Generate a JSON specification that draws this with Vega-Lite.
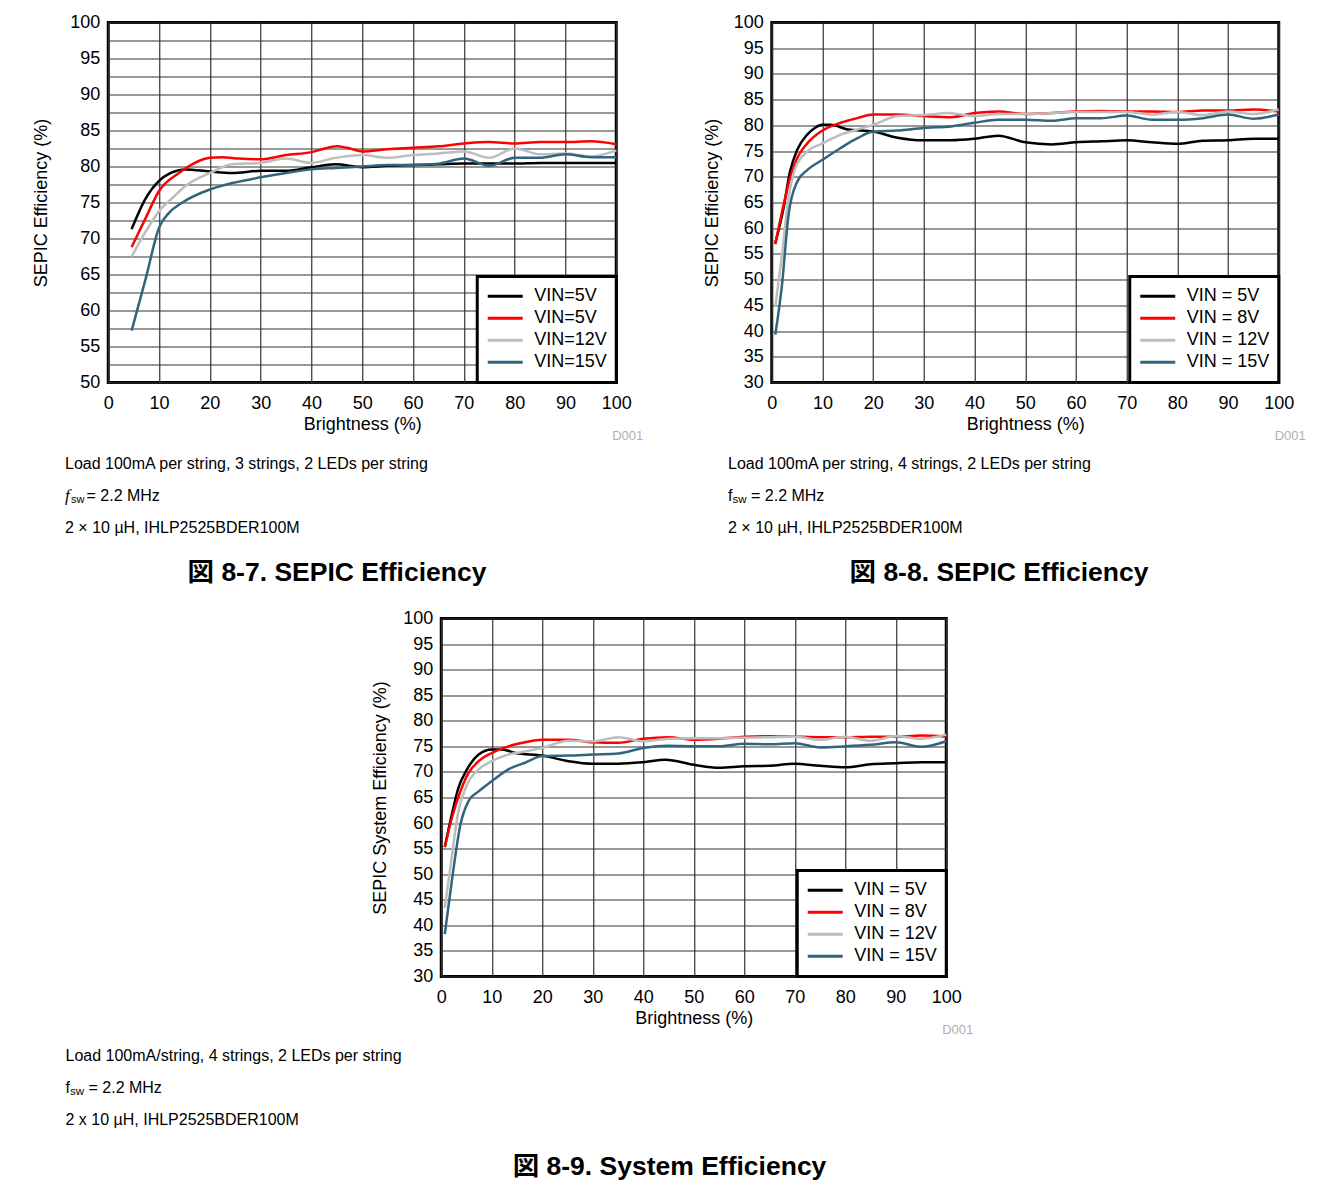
{
  "$schema": "https://vega.github.io/schema/vega-lite/v6.json",
  "background": "white",
  "padding": {"left": 31, "top": 11.5, "right": 5, "bottom": 5},
  "datasets": {
    "p1": [
      {"series": "VIN=5V#1", "brightness": 4.6, "efficiency": 71.3},
      {"series": "VIN=5V#1", "brightness": 7.4, "efficiency": 75.6},
      {"series": "VIN=5V#1", "brightness": 10, "efficiency": 78.0},
      {"series": "VIN=5V#1", "brightness": 12.3, "efficiency": 79.1},
      {"series": "VIN=5V#1", "brightness": 15.2, "efficiency": 79.6},
      {"series": "VIN=5V#1", "brightness": 20, "efficiency": 79.3},
      {"series": "VIN=5V#1", "brightness": 24.4, "efficiency": 79.1},
      {"series": "VIN=5V#1", "brightness": 30, "efficiency": 79.4},
      {"series": "VIN=5V#1", "brightness": 35, "efficiency": 79.4},
      {"series": "VIN=5V#1", "brightness": 40, "efficiency": 79.9},
      {"series": "VIN=5V#1", "brightness": 44.7, "efficiency": 80.3},
      {"series": "VIN=5V#1", "brightness": 50, "efficiency": 79.9},
      {"series": "VIN=5V#1", "brightness": 55, "efficiency": 80.1},
      {"series": "VIN=5V#1", "brightness": 60, "efficiency": 80.2},
      {"series": "VIN=5V#1", "brightness": 65, "efficiency": 80.3},
      {"series": "VIN=5V#1", "brightness": 70, "efficiency": 80.4},
      {"series": "VIN=5V#1", "brightness": 75, "efficiency": 80.4},
      {"series": "VIN=5V#1", "brightness": 80, "efficiency": 80.4},
      {"series": "VIN=5V#1", "brightness": 85, "efficiency": 80.5},
      {"series": "VIN=5V#1", "brightness": 90, "efficiency": 80.5},
      {"series": "VIN=5V#1", "brightness": 95, "efficiency": 80.5},
      {"series": "VIN=5V#1", "brightness": 100, "efficiency": 80.5},
      {"series": "VIN=5V#2", "brightness": 4.6, "efficiency": 68.8},
      {"series": "VIN=5V#2", "brightness": 7.4, "efficiency": 72.9},
      {"series": "VIN=5V#2", "brightness": 10, "efficiency": 76.6},
      {"series": "VIN=5V#2", "brightness": 13.9, "efficiency": 79.1},
      {"series": "VIN=5V#2", "brightness": 16.5, "efficiency": 80.3},
      {"series": "VIN=5V#2", "brightness": 20, "efficiency": 81.2},
      {"series": "VIN=5V#2", "brightness": 22.4, "efficiency": 81.3},
      {"series": "VIN=5V#2", "brightness": 25.7, "efficiency": 81.1},
      {"series": "VIN=5V#2", "brightness": 30, "efficiency": 81.0},
      {"series": "VIN=5V#2", "brightness": 35, "efficiency": 81.6},
      {"series": "VIN=5V#2", "brightness": 40, "efficiency": 82.0},
      {"series": "VIN=5V#2", "brightness": 42.1, "efficiency": 82.4},
      {"series": "VIN=5V#2", "brightness": 45, "efficiency": 82.8},
      {"series": "VIN=5V#2", "brightness": 47, "efficiency": 82.6},
      {"series": "VIN=5V#2", "brightness": 50, "efficiency": 82.1},
      {"series": "VIN=5V#2", "brightness": 55, "efficiency": 82.4},
      {"series": "VIN=5V#2", "brightness": 60, "efficiency": 82.6},
      {"series": "VIN=5V#2", "brightness": 65, "efficiency": 82.8},
      {"series": "VIN=5V#2", "brightness": 70, "efficiency": 83.2},
      {"series": "VIN=5V#2", "brightness": 75, "efficiency": 83.4},
      {"series": "VIN=5V#2", "brightness": 80, "efficiency": 83.2},
      {"series": "VIN=5V#2", "brightness": 85, "efficiency": 83.4},
      {"series": "VIN=5V#2", "brightness": 90, "efficiency": 83.4},
      {"series": "VIN=5V#2", "brightness": 95, "efficiency": 83.5},
      {"series": "VIN=5V#2", "brightness": 100, "efficiency": 83.1},
      {"series": "VIN=12V", "brightness": 4.6, "efficiency": 67.5},
      {"series": "VIN=12V", "brightness": 7.4, "efficiency": 71.0},
      {"series": "VIN=12V", "brightness": 10, "efficiency": 73.8},
      {"series": "VIN=12V", "brightness": 12.6, "efficiency": 75.6},
      {"series": "VIN=12V", "brightness": 15.2, "efficiency": 77.3},
      {"series": "VIN=12V", "brightness": 20, "efficiency": 79.1},
      {"series": "VIN=12V", "brightness": 24.4, "efficiency": 80.3},
      {"series": "VIN=12V", "brightness": 30, "efficiency": 80.5},
      {"series": "VIN=12V", "brightness": 35, "efficiency": 81.1},
      {"series": "VIN=12V", "brightness": 40, "efficiency": 80.5},
      {"series": "VIN=12V", "brightness": 44.7, "efficiency": 81.2},
      {"series": "VIN=12V", "brightness": 50, "efficiency": 81.6},
      {"series": "VIN=12V", "brightness": 55, "efficiency": 81.2},
      {"series": "VIN=12V", "brightness": 60, "efficiency": 81.6},
      {"series": "VIN=12V", "brightness": 65, "efficiency": 81.8},
      {"series": "VIN=12V", "brightness": 70, "efficiency": 82.1},
      {"series": "VIN=12V", "brightness": 75, "efficiency": 81.2},
      {"series": "VIN=12V", "brightness": 80, "efficiency": 82.5},
      {"series": "VIN=12V", "brightness": 85, "efficiency": 81.7},
      {"series": "VIN=12V", "brightness": 90, "efficiency": 81.8},
      {"series": "VIN=12V", "brightness": 95, "efficiency": 81.4},
      {"series": "VIN=12V", "brightness": 100, "efficiency": 82.2},
      {"series": "VIN=15V", "brightness": 4.6, "efficiency": 57.2},
      {"series": "VIN=15V", "brightness": 7.4, "efficiency": 64.5},
      {"series": "VIN=15V", "brightness": 10, "efficiency": 71.5},
      {"series": "VIN=15V", "brightness": 12, "efficiency": 73.6},
      {"series": "VIN=15V", "brightness": 14.6, "efficiency": 75.0},
      {"series": "VIN=15V", "brightness": 20, "efficiency": 76.8},
      {"series": "VIN=15V", "brightness": 24.4, "efficiency": 77.7},
      {"series": "VIN=15V", "brightness": 30, "efficiency": 78.5},
      {"series": "VIN=15V", "brightness": 35, "efficiency": 79.1},
      {"series": "VIN=15V", "brightness": 40, "efficiency": 79.6},
      {"series": "VIN=15V", "brightness": 44.7, "efficiency": 79.8},
      {"series": "VIN=15V", "brightness": 50, "efficiency": 80.0},
      {"series": "VIN=15V", "brightness": 55, "efficiency": 80.2},
      {"series": "VIN=15V", "brightness": 60, "efficiency": 80.2},
      {"series": "VIN=15V", "brightness": 65, "efficiency": 80.4},
      {"series": "VIN=15V", "brightness": 70, "efficiency": 81.1},
      {"series": "VIN=15V", "brightness": 75, "efficiency": 80.1},
      {"series": "VIN=15V", "brightness": 80, "efficiency": 81.2},
      {"series": "VIN=15V", "brightness": 85, "efficiency": 81.2},
      {"series": "VIN=15V", "brightness": 90, "efficiency": 81.7},
      {"series": "VIN=15V", "brightness": 95, "efficiency": 81.3},
      {"series": "VIN=15V", "brightness": 100, "efficiency": 81.3}
    ],
    "p2": [
      {"series": "VIN = 5V", "brightness": 0.7, "efficiency": 57.1},
      {"series": "VIN = 5V", "brightness": 2.3, "efficiency": 63.8},
      {"series": "VIN = 5V", "brightness": 3.6, "efficiency": 71.0},
      {"series": "VIN = 5V", "brightness": 5, "efficiency": 75.2},
      {"series": "VIN = 5V", "brightness": 7, "efficiency": 78.2},
      {"series": "VIN = 5V", "brightness": 8.5, "efficiency": 79.5},
      {"series": "VIN = 5V", "brightness": 10, "efficiency": 80.1},
      {"series": "VIN = 5V", "brightness": 11.6, "efficiency": 80.1},
      {"series": "VIN = 5V", "brightness": 15, "efficiency": 79.2},
      {"series": "VIN = 5V", "brightness": 20, "efficiency": 78.8},
      {"series": "VIN = 5V", "brightness": 24.8, "efficiency": 77.6},
      {"series": "VIN = 5V", "brightness": 30, "efficiency": 77.1},
      {"series": "VIN = 5V", "brightness": 35.4, "efficiency": 77.1},
      {"series": "VIN = 5V", "brightness": 40, "efficiency": 77.4},
      {"series": "VIN = 5V", "brightness": 44.7, "efficiency": 78.0},
      {"series": "VIN = 5V", "brightness": 50, "efficiency": 76.7},
      {"series": "VIN = 5V", "brightness": 55.3, "efficiency": 76.3},
      {"series": "VIN = 5V", "brightness": 60, "efficiency": 76.7},
      {"series": "VIN = 5V", "brightness": 65, "efficiency": 76.9},
      {"series": "VIN = 5V", "brightness": 70, "efficiency": 77.1},
      {"series": "VIN = 5V", "brightness": 75, "efficiency": 76.7},
      {"series": "VIN = 5V", "brightness": 80, "efficiency": 76.4},
      {"series": "VIN = 5V", "brightness": 85, "efficiency": 77.0},
      {"series": "VIN = 5V", "brightness": 90, "efficiency": 77.1},
      {"series": "VIN = 5V", "brightness": 95, "efficiency": 77.4},
      {"series": "VIN = 5V", "brightness": 100, "efficiency": 77.4},
      {"series": "VIN = 8V", "brightness": 0.7, "efficiency": 56.9},
      {"series": "VIN = 8V", "brightness": 2.3, "efficiency": 64.4},
      {"series": "VIN = 8V", "brightness": 3.6, "efficiency": 69.7},
      {"series": "VIN = 8V", "brightness": 5, "efficiency": 73.6},
      {"series": "VIN = 8V", "brightness": 7, "efficiency": 76.5},
      {"series": "VIN = 8V", "brightness": 10, "efficiency": 79.0},
      {"series": "VIN = 8V", "brightness": 13.6, "efficiency": 80.5},
      {"series": "VIN = 8V", "brightness": 16.9, "efficiency": 81.4},
      {"series": "VIN = 8V", "brightness": 20, "efficiency": 82.1},
      {"series": "VIN = 8V", "brightness": 24.8, "efficiency": 82.1},
      {"series": "VIN = 8V", "brightness": 30, "efficiency": 81.8},
      {"series": "VIN = 8V", "brightness": 35.4, "efficiency": 81.6},
      {"series": "VIN = 8V", "brightness": 40, "efficiency": 82.4},
      {"series": "VIN = 8V", "brightness": 44.7, "efficiency": 82.7},
      {"series": "VIN = 8V", "brightness": 50, "efficiency": 82.2},
      {"series": "VIN = 8V", "brightness": 55.3, "efficiency": 82.4},
      {"series": "VIN = 8V", "brightness": 60, "efficiency": 82.7},
      {"series": "VIN = 8V", "brightness": 65, "efficiency": 82.8},
      {"series": "VIN = 8V", "brightness": 70, "efficiency": 82.7},
      {"series": "VIN = 8V", "brightness": 75, "efficiency": 82.7},
      {"series": "VIN = 8V", "brightness": 80, "efficiency": 82.6},
      {"series": "VIN = 8V", "brightness": 85, "efficiency": 82.9},
      {"series": "VIN = 8V", "brightness": 90, "efficiency": 82.9},
      {"series": "VIN = 8V", "brightness": 95, "efficiency": 83.1},
      {"series": "VIN = 8V", "brightness": 100, "efficiency": 82.7},
      {"series": "VIN = 12V", "brightness": 0.7, "efficiency": 44.7},
      {"series": "VIN = 12V", "brightness": 2, "efficiency": 54.6},
      {"series": "VIN = 12V", "brightness": 3.3, "efficiency": 65.8},
      {"series": "VIN = 12V", "brightness": 4.6, "efficiency": 71.6},
      {"series": "VIN = 12V", "brightness": 7, "efficiency": 74.9},
      {"series": "VIN = 12V", "brightness": 10, "efficiency": 76.5},
      {"series": "VIN = 12V", "brightness": 13.6, "efficiency": 78.2},
      {"series": "VIN = 12V", "brightness": 16.9, "efficiency": 79.2},
      {"series": "VIN = 12V", "brightness": 20, "efficiency": 80.1},
      {"series": "VIN = 12V", "brightness": 24.8, "efficiency": 81.8},
      {"series": "VIN = 12V", "brightness": 30, "efficiency": 82.0},
      {"series": "VIN = 12V", "brightness": 34.8, "efficiency": 82.4},
      {"series": "VIN = 12V", "brightness": 40, "efficiency": 81.8},
      {"series": "VIN = 12V", "brightness": 44.7, "efficiency": 82.2},
      {"series": "VIN = 12V", "brightness": 50, "efficiency": 82.2},
      {"series": "VIN = 12V", "brightness": 55.3, "efficiency": 82.4},
      {"series": "VIN = 12V", "brightness": 60, "efficiency": 82.6},
      {"series": "VIN = 12V", "brightness": 65, "efficiency": 82.6},
      {"series": "VIN = 12V", "brightness": 70, "efficiency": 82.6},
      {"series": "VIN = 12V", "brightness": 75, "efficiency": 82.1},
      {"series": "VIN = 12V", "brightness": 80, "efficiency": 82.6},
      {"series": "VIN = 12V", "brightness": 85, "efficiency": 82.0},
      {"series": "VIN = 12V", "brightness": 90, "efficiency": 82.7},
      {"series": "VIN = 12V", "brightness": 95, "efficiency": 82.2},
      {"series": "VIN = 12V", "brightness": 100, "efficiency": 83.1},
      {"series": "VIN = 15V", "brightness": 0.7, "efficiency": 39.3},
      {"series": "VIN = 15V", "brightness": 2, "efficiency": 48.8},
      {"series": "VIN = 15V", "brightness": 3.3, "efficiency": 62.5},
      {"series": "VIN = 15V", "brightness": 5, "efficiency": 69.0},
      {"series": "VIN = 15V", "brightness": 7, "efficiency": 71.3},
      {"series": "VIN = 15V", "brightness": 10, "efficiency": 73.3},
      {"series": "VIN = 15V", "brightness": 13.6, "efficiency": 75.6},
      {"series": "VIN = 15V", "brightness": 16.9, "efficiency": 77.5},
      {"series": "VIN = 15V", "brightness": 20, "efficiency": 78.8},
      {"series": "VIN = 15V", "brightness": 24.8, "efficiency": 79.0},
      {"series": "VIN = 15V", "brightness": 30, "efficiency": 79.5},
      {"series": "VIN = 15V", "brightness": 35.4, "efficiency": 79.8},
      {"series": "VIN = 15V", "brightness": 40, "efficiency": 80.5},
      {"series": "VIN = 15V", "brightness": 44.7, "efficiency": 81.1},
      {"series": "VIN = 15V", "brightness": 50, "efficiency": 81.1},
      {"series": "VIN = 15V", "brightness": 55.3, "efficiency": 80.9},
      {"series": "VIN = 15V", "brightness": 60, "efficiency": 81.4},
      {"series": "VIN = 15V", "brightness": 65, "efficiency": 81.4},
      {"series": "VIN = 15V", "brightness": 70, "efficiency": 81.9},
      {"series": "VIN = 15V", "brightness": 75, "efficiency": 81.1},
      {"series": "VIN = 15V", "brightness": 80, "efficiency": 81.1},
      {"series": "VIN = 15V", "brightness": 85, "efficiency": 81.4},
      {"series": "VIN = 15V", "brightness": 90, "efficiency": 82.1},
      {"series": "VIN = 15V", "brightness": 95, "efficiency": 81.3},
      {"series": "VIN = 15V", "brightness": 100, "efficiency": 82.1}
    ],
    "p3": [
      {"series": "VIN = 5V", "brightness": 0.7, "efficiency": 55.3},
      {"series": "VIN = 5V", "brightness": 2.1, "efficiency": 61.7},
      {"series": "VIN = 5V", "brightness": 3.4, "efficiency": 66.9},
      {"series": "VIN = 5V", "brightness": 5.1, "efficiency": 70.5},
      {"series": "VIN = 5V", "brightness": 7.4, "efficiency": 73.4},
      {"series": "VIN = 5V", "brightness": 10, "efficiency": 74.4},
      {"series": "VIN = 5V", "brightness": 12, "efficiency": 74.4},
      {"series": "VIN = 5V", "brightness": 14.7, "efficiency": 73.7},
      {"series": "VIN = 5V", "brightness": 20, "efficiency": 73.2},
      {"series": "VIN = 5V", "brightness": 25.2, "efficiency": 72.1},
      {"series": "VIN = 5V", "brightness": 30, "efficiency": 71.6},
      {"series": "VIN = 5V", "brightness": 35.1, "efficiency": 71.6},
      {"series": "VIN = 5V", "brightness": 40, "efficiency": 71.9},
      {"series": "VIN = 5V", "brightness": 44.4, "efficiency": 72.4},
      {"series": "VIN = 5V", "brightness": 50, "efficiency": 71.4},
      {"series": "VIN = 5V", "brightness": 55, "efficiency": 70.8},
      {"series": "VIN = 5V", "brightness": 60, "efficiency": 71.1},
      {"series": "VIN = 5V", "brightness": 65, "efficiency": 71.2},
      {"series": "VIN = 5V", "brightness": 70, "efficiency": 71.6},
      {"series": "VIN = 5V", "brightness": 75, "efficiency": 71.2},
      {"series": "VIN = 5V", "brightness": 80, "efficiency": 70.9},
      {"series": "VIN = 5V", "brightness": 85, "efficiency": 71.5},
      {"series": "VIN = 5V", "brightness": 90, "efficiency": 71.7},
      {"series": "VIN = 5V", "brightness": 95, "efficiency": 71.9},
      {"series": "VIN = 5V", "brightness": 100, "efficiency": 71.9},
      {"series": "VIN = 8V", "brightness": 0.7, "efficiency": 55.3},
      {"series": "VIN = 8V", "brightness": 2.1, "efficiency": 61.0},
      {"series": "VIN = 8V", "brightness": 3.8, "efficiency": 66.2},
      {"series": "VIN = 8V", "brightness": 5.4, "efficiency": 69.8},
      {"series": "VIN = 8V", "brightness": 7.4, "efficiency": 72.1},
      {"series": "VIN = 8V", "brightness": 10, "efficiency": 73.7},
      {"series": "VIN = 8V", "brightness": 13.3, "efficiency": 75.0},
      {"series": "VIN = 8V", "brightness": 16.6, "efficiency": 75.8},
      {"series": "VIN = 8V", "brightness": 20, "efficiency": 76.3},
      {"series": "VIN = 8V", "brightness": 25.2, "efficiency": 76.3},
      {"series": "VIN = 8V", "brightness": 30, "efficiency": 75.8},
      {"series": "VIN = 8V", "brightness": 35.1, "efficiency": 75.7},
      {"series": "VIN = 8V", "brightness": 40, "efficiency": 76.5},
      {"series": "VIN = 8V", "brightness": 45, "efficiency": 76.8},
      {"series": "VIN = 8V", "brightness": 50, "efficiency": 76.3},
      {"series": "VIN = 8V", "brightness": 55, "efficiency": 76.5},
      {"series": "VIN = 8V", "brightness": 60, "efficiency": 76.9},
      {"series": "VIN = 8V", "brightness": 65, "efficiency": 77.0},
      {"series": "VIN = 8V", "brightness": 70, "efficiency": 76.9},
      {"series": "VIN = 8V", "brightness": 75, "efficiency": 76.8},
      {"series": "VIN = 8V", "brightness": 80, "efficiency": 76.8},
      {"series": "VIN = 8V", "brightness": 85, "efficiency": 76.9},
      {"series": "VIN = 8V", "brightness": 90, "efficiency": 76.9},
      {"series": "VIN = 8V", "brightness": 95, "efficiency": 77.1},
      {"series": "VIN = 8V", "brightness": 100, "efficiency": 76.9},
      {"series": "VIN = 12V", "brightness": 0.7, "efficiency": 43.4},
      {"series": "VIN = 12V", "brightness": 1.8, "efficiency": 51.3},
      {"series": "VIN = 12V", "brightness": 3.4, "efficiency": 62.3},
      {"series": "VIN = 12V", "brightness": 5.1, "efficiency": 67.5},
      {"series": "VIN = 12V", "brightness": 7.4, "efficiency": 70.5},
      {"series": "VIN = 12V", "brightness": 10, "efficiency": 72.1},
      {"series": "VIN = 12V", "brightness": 13.3, "efficiency": 73.4},
      {"series": "VIN = 12V", "brightness": 16.6, "efficiency": 74.0},
      {"series": "VIN = 12V", "brightness": 20, "efficiency": 74.7},
      {"series": "VIN = 12V", "brightness": 25.2, "efficiency": 76.1},
      {"series": "VIN = 12V", "brightness": 30, "efficiency": 76.0},
      {"series": "VIN = 12V", "brightness": 35.1, "efficiency": 76.8},
      {"series": "VIN = 12V", "brightness": 40, "efficiency": 76.0},
      {"series": "VIN = 12V", "brightness": 45, "efficiency": 76.5},
      {"series": "VIN = 12V", "brightness": 50, "efficiency": 76.6},
      {"series": "VIN = 12V", "brightness": 55, "efficiency": 76.6},
      {"series": "VIN = 12V", "brightness": 60, "efficiency": 76.7},
      {"series": "VIN = 12V", "brightness": 65, "efficiency": 76.8},
      {"series": "VIN = 12V", "brightness": 70, "efficiency": 76.9},
      {"series": "VIN = 12V", "brightness": 75, "efficiency": 76.3},
      {"series": "VIN = 12V", "brightness": 80, "efficiency": 76.9},
      {"series": "VIN = 12V", "brightness": 85, "efficiency": 76.1},
      {"series": "VIN = 12V", "brightness": 90, "efficiency": 77.0},
      {"series": "VIN = 12V", "brightness": 95, "efficiency": 76.5},
      {"series": "VIN = 12V", "brightness": 100, "efficiency": 77.3},
      {"series": "VIN = 15V", "brightness": 0.7, "efficiency": 38.3},
      {"series": "VIN = 15V", "brightness": 2.1, "efficiency": 48.7},
      {"series": "VIN = 15V", "brightness": 3.8, "efficiency": 59.7},
      {"series": "VIN = 15V", "brightness": 5.4, "efficiency": 64.3},
      {"series": "VIN = 15V", "brightness": 7.4, "efficiency": 66.2},
      {"series": "VIN = 15V", "brightness": 10, "efficiency": 68.2},
      {"series": "VIN = 15V", "brightness": 13.3, "efficiency": 70.5},
      {"series": "VIN = 15V", "brightness": 16.6, "efficiency": 71.8},
      {"series": "VIN = 15V", "brightness": 20, "efficiency": 73.1},
      {"series": "VIN = 15V", "brightness": 25.2, "efficiency": 73.2},
      {"series": "VIN = 15V", "brightness": 30, "efficiency": 73.4},
      {"series": "VIN = 15V", "brightness": 35.1, "efficiency": 73.6},
      {"series": "VIN = 15V", "brightness": 40, "efficiency": 74.7},
      {"series": "VIN = 15V", "brightness": 45, "efficiency": 75.1},
      {"series": "VIN = 15V", "brightness": 50, "efficiency": 75.0},
      {"series": "VIN = 15V", "brightness": 55, "efficiency": 75.0},
      {"series": "VIN = 15V", "brightness": 60, "efficiency": 75.5},
      {"series": "VIN = 15V", "brightness": 65, "efficiency": 75.4},
      {"series": "VIN = 15V", "brightness": 70, "efficiency": 75.6},
      {"series": "VIN = 15V", "brightness": 75, "efficiency": 74.8},
      {"series": "VIN = 15V", "brightness": 80, "efficiency": 75.0},
      {"series": "VIN = 15V", "brightness": 85, "efficiency": 75.3},
      {"series": "VIN = 15V", "brightness": 90, "efficiency": 75.8},
      {"series": "VIN = 15V", "brightness": 95, "efficiency": 74.9},
      {"series": "VIN = 15V", "brightness": 100, "efficiency": 76.0}
    ],
    "n1": [
      {"line": 1, "part": "main", "text": "Load 100mA per string, 3 strings, 2 LEDs per string"},
      {"line": 2, "part": "f", "text": "f"},
      {"line": 2, "part": "sub", "text": "sw"},
      {"line": 2, "part": "rest", "text": "= 2.2 MHz"},
      {"line": 3, "part": "main", "text": "2 × 10 µH, IHLP2525BDER100M"}
    ],
    "n2": [
      {"line": 1, "part": "main", "text": "Load 100mA per string, 4 strings, 2 LEDs per string"},
      {"line": 2, "part": "f", "text": "f"},
      {"line": 2, "part": "sub", "text": "sw"},
      {"line": 2, "part": "rest", "text": "= 2.2 MHz"},
      {"line": 3, "part": "main", "text": "2 × 10 µH, IHLP2525BDER100M"}
    ],
    "n3": [
      {"line": 1, "part": "main", "text": "Load 100mA/string, 4 strings, 2 LEDs per string"},
      {"line": 2, "part": "f", "text": "f"},
      {"line": 2, "part": "sub", "text": "sw"},
      {"line": 2, "part": "rest", "text": "= 2.2 MHz"},
      {"line": 3, "part": "main", "text": "2 x 10 µH, IHLP2525BDER100M"}
    ]
  },
  "vconcat": [
    {
      "hconcat": [
        {
          "vconcat": [
            {
              "width": 508,
              "height": 360,
              "data": {"name": "p1"},
              "title": {"text": "D001", "orient": "bottom", "anchor": "end", "frame": "group", "dx": 27, "offset": -4, "fontSize": 13, "fontWeight": "normal", "color": "#b0b0b0", "font": "Liberation Sans"},
              "mark": {"type": "line", "strokeWidth": 2.5, "interpolate": "monotone"},
              "encoding": {
                "x": {"field": "brightness", "type": "quantitative", "scale": {"domain": [0, 100], "nice": false}, "axis": {"title": "Brightness (%)", "values": [0, 10, 20, 30, 40, 50, 60, 70, 80, 90, 100]}},
                "y": {"field": "efficiency", "type": "quantitative", "scale": {"domain": [50, 100], "nice": false, "zero": false}, "axis": {"title": "SEPIC Efficiency (%)", "titlePadding": 19, "values": [50, 52.5, 55, 57.5, 60, 62.5, 65, 67.5, 70, 72.5, 75, 77.5, 80, 82.5, 85, 87.5, 90, 92.5, 95, 97.5, 100], "labelExpr": "datum.value % 5 == 0 ? datum.label : ''"}},
                "color": {"field": "series", "type": "nominal", "scale": {"domain": ["VIN=5V#1", "VIN=5V#2", "VIN=12V", "VIN=15V"], "range": ["#000000", "#ff0000", "#bdbdbd", "#33647e"]}, "legend": {"title": null, "labelExpr": "split(datum.label, '#')[0]"}}
              }
            },
            {
              "width": 623,
              "height": 96,
              "view": {"stroke": null},
              "data": {"name": "n1"},
              "title": {"text": "図 8-7. SEPIC Efficiency", "orient": "bottom", "anchor": "middle", "frame": "group", "dx": -39.5, "offset": 16, "fontSize": 26.5, "fontWeight": "bold", "font": "Liberation Sans, Noto Sans CJK JP", "color": "black"},
              "encoding": {
                "x": {"datum": 0, "type": "quantitative", "scale": {"domain": [0, 1]}, "axis": null},
                "y": {"field": "line", "type": "ordinal", "scale": {"type": "point", "domain": [1, 2, 3], "padding": 0.5}, "axis": null},
                "text": {"field": "text"}
              },
              "layer": [
                {"transform": [{"filter": "datum.part == 'main'"}], "mark": {"type": "text", "align": "left", "baseline": "middle", "fontSize": 16, "font": "Liberation Sans", "color": "black"}},
                {"transform": [{"filter": "datum.part == 'f'"}], "mark": {"type": "text", "align": "left", "baseline": "middle", "fontSize": 17, "fontStyle": "italic", "font": "Liberation Serif", "color": "black"}},
                {"transform": [{"filter": "datum.part == 'sub'"}], "mark": {"type": "text", "align": "left", "baseline": "middle", "fontSize": 11, "dx": 6, "dy": 4, "font": "Liberation Sans", "color": "black"}},
                {"transform": [{"filter": "datum.part == 'rest'"}], "mark": {"type": "text", "align": "left", "baseline": "middle", "fontSize": 16, "dx": 21.5, "font": "Liberation Sans", "color": "black"}}
              ]
            }
          ],
          "spacing": 3,
          "center": true,
          "resolve": {"scale": {"color": "independent"}, "legend": {"color": "independent"}}
        },
        {
          "vconcat": [
            {
              "width": 507,
              "height": 360,
              "data": {"name": "p2"},
              "title": {"text": "D001", "orient": "bottom", "anchor": "end", "frame": "group", "dx": 27, "offset": -4, "fontSize": 13, "fontWeight": "normal", "color": "#b0b0b0", "font": "Liberation Sans"},
              "mark": {"type": "line", "strokeWidth": 2.5, "interpolate": "monotone"},
              "encoding": {
                "x": {"field": "brightness", "type": "quantitative", "scale": {"domain": [0, 100], "nice": false}, "axis": {"title": "Brightness (%)", "values": [0, 10, 20, 30, 40, 50, 60, 70, 80, 90, 100]}},
                "y": {"field": "efficiency", "type": "quantitative", "scale": {"domain": [30, 100], "nice": false, "zero": false}, "axis": {"title": "SEPIC Efficiency (%)", "titlePadding": 12, "values": [30, 35, 40, 45, 50, 55, 60, 65, 70, 75, 80, 85, 90, 95, 100]}},
                "color": {"field": "series", "type": "nominal", "scale": {"domain": ["VIN = 5V", "VIN = 8V", "VIN = 12V", "VIN = 15V"], "range": ["#000000", "#ff0000", "#bdbdbd", "#33647e"]}, "legend": {"title": null}}
              }
            },
            {
              "width": 623,
              "height": 96,
              "view": {"stroke": null},
              "data": {"name": "n2"},
              "title": {"text": "図 8-8. SEPIC Efficiency", "orient": "bottom", "anchor": "middle", "frame": "group", "dx": -40.5, "offset": 16, "fontSize": 26.5, "fontWeight": "bold", "font": "Liberation Sans, Noto Sans CJK JP", "color": "black"},
              "encoding": {
                "x": {"datum": 0, "type": "quantitative", "scale": {"domain": [0, 1]}, "axis": null},
                "y": {"field": "line", "type": "ordinal", "scale": {"type": "point", "domain": [1, 2, 3], "padding": 0.5}, "axis": null},
                "text": {"field": "text"}
              },
              "layer": [
                {"transform": [{"filter": "datum.part == 'main' || datum.part == 'f'"}], "mark": {"type": "text", "align": "left", "baseline": "middle", "fontSize": 16, "font": "Liberation Sans", "color": "black"}},
                {"transform": [{"filter": "datum.part == 'sub'"}], "mark": {"type": "text", "align": "left", "baseline": "middle", "fontSize": 11.5, "dx": 4.5, "dy": 4, "font": "Liberation Sans", "color": "black"}},
                {"transform": [{"filter": "datum.part == 'rest'"}], "mark": {"type": "text", "align": "left", "baseline": "middle", "fontSize": 16, "dx": 23, "font": "Liberation Sans", "color": "black"}}
              ]
            }
          ],
          "spacing": 3,
          "center": true,
          "resolve": {"scale": {"color": "independent"}, "legend": {"color": "independent"}}
        }
      ],
      "spacing": 13,
      "resolve": {"scale": {"color": "independent"}, "legend": {"color": "independent"}}
    },
    {
      "vconcat": [
        {
          "width": 505,
          "height": 358,
          "data": {"name": "p3"},
          "title": {"text": "D001", "orient": "bottom", "anchor": "end", "frame": "group", "dx": 27, "offset": -4, "fontSize": 13, "fontWeight": "normal", "color": "#b0b0b0", "font": "Liberation Sans"},
          "mark": {"type": "line", "strokeWidth": 2.5, "interpolate": "monotone"},
          "encoding": {
            "x": {"field": "brightness", "type": "quantitative", "scale": {"domain": [0, 100], "nice": false}, "axis": {"title": "Brightness (%)", "values": [0, 10, 20, 30, 40, 50, 60, 70, 80, 90, 100]}},
            "y": {"field": "efficiency", "type": "quantitative", "scale": {"domain": [30, 100], "nice": false, "zero": false}, "axis": {"title": "SEPIC System Efficiency (%)", "titlePadding": 13, "values": [30, 35, 40, 45, 50, 55, 60, 65, 70, 75, 80, 85, 90, 95, 100]}},
            "color": {"field": "series", "type": "nominal", "scale": {"domain": ["VIN = 5V", "VIN = 8V", "VIN = 12V", "VIN = 15V"], "range": ["#000000", "#ff0000", "#bdbdbd", "#33647e"]}, "legend": {"title": null}}
          }
        },
        {
          "width": 1285,
          "height": 96,
          "view": {"stroke": null},
          "data": {"name": "n3"},
          "title": {"text": "図 8-9. System Efficiency", "orient": "bottom", "anchor": "middle", "frame": "group", "dx": -38.5, "offset": 17.5, "fontSize": 26.5, "fontWeight": "bold", "font": "Liberation Sans, Noto Sans CJK JP", "color": "black"},
          "encoding": {
            "x": {"datum": 0, "type": "quantitative", "scale": {"domain": [0, 1]}, "axis": null},
            "y": {"field": "line", "type": "ordinal", "scale": {"type": "point", "domain": [1, 2, 3], "padding": 0.5}, "axis": null},
            "text": {"field": "text"}
          },
          "layer": [
            {"transform": [{"filter": "datum.part == 'main' || datum.part == 'f'"}], "mark": {"type": "text", "align": "left", "baseline": "middle", "fontSize": 16, "font": "Liberation Sans", "color": "black"}},
            {"transform": [{"filter": "datum.part == 'sub'"}], "mark": {"type": "text", "align": "left", "baseline": "middle", "fontSize": 11.5, "dx": 4.5, "dy": 4, "font": "Liberation Sans", "color": "black"}},
            {"transform": [{"filter": "datum.part == 'rest'"}], "mark": {"type": "text", "align": "left", "baseline": "middle", "fontSize": 16, "dx": 23, "font": "Liberation Sans", "color": "black"}}
          ]
        }
      ],
      "spacing": 1.5,
      "center": true,
      "resolve": {"scale": {"color": "independent"}, "legend": {"color": "independent"}}
    }
  ],
  "spacing": 21,
  "center": true,
  "resolve": {"scale": {"color": "independent"}, "legend": {"color": "independent"}},
  "config": {
    "font": "Liberation Sans",
    "view": {"stroke": "black", "strokeWidth": 3},
    "axis": {
      "domain": false,
      "ticks": false,
      "grid": true,
      "gridColor": "#333333",
      "gridWidth": 1.2,
      "labelFont": "Liberation Sans",
      "labelFontSize": 18,
      "labelColor": "black",
      "labelOverlap": false,
      "labelFlush": false,
      "titleFont": "Liberation Sans",
      "titleFontSize": 18,
      "titleFontWeight": "normal",
      "titleColor": "black"
    },
    "axisX": {"labelPadding": 12, "titlePadding": 3},
    "axisY": {"labelPadding": 8.5},
    "legend": {
      "orient": "bottom-right",
      "offset": 0,
      "padding": 9,
      "clipHeight": 21.3,
      "rowPadding": 0,
      "strokeColor": "black",
      "strokeWidth": 3,
      "fillColor": "white",
      "labelFont": "Liberation Sans",
      "labelFontSize": 18,
      "labelColor": "black",
      "labelOffset": 10,
      "labelLimit": 200,
      "symbolType": "stroke",
      "symbolSize": 1225,
      "symbolStrokeWidth": 3
    }
  }
}
